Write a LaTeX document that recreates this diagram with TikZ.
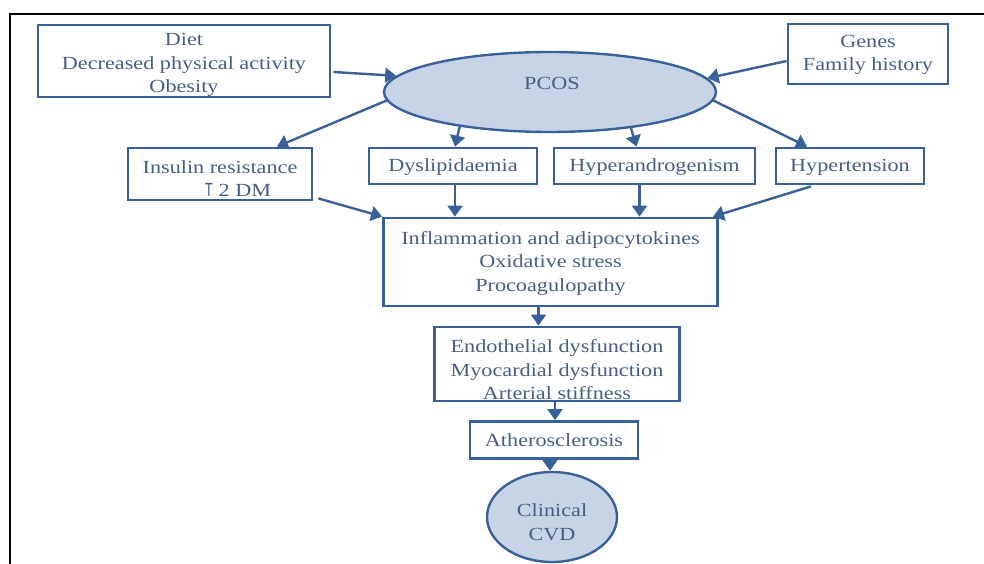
\documentclass[tikz,border=0pt]{standalone}
\usepackage{fontspec}
\setmainfont[FakeStretch=1.2]{Liberation Serif}
\newfontfamily\thinsans{Liberation Sans}
\usetikzlibrary{arrows.meta,shapes.geometric,calc}
\definecolor{bord}{HTML}{38619A}
\definecolor{txtc}{HTML}{465E84}
\definecolor{fillc}{HTML}{C7D4E6}
\begin{document}
\begin{tikzpicture}[x=1pt,y=-1pt,
 box/.style={draw=bord,line width=2.8pt,rectangle,inner sep=0pt},
 txt/.style={text=txtc,inner sep=0pt,align=center,font=\fontsize{18.5}{23.5}\selectfont},
 arr/.style={draw=bord,line width=2.4pt,-{Triangle[length=11pt,width=15pt]}},
 frame/.style={draw=black,line width=2.6pt}
]
\useasboundingbox (0,0) rectangle (984,564);
% frame (open on right and bottom)
\coordinate (fa) at (10,564);
\coordinate (fb) at (10,14);
\coordinate (fc) at (984,14);
\draw[frame] (fa) -- (fb) -- (fc);

% boxes
\node[box,minimum width=292pt,minimum height=72pt] (diet) at (184,61) {};
\node[txt] (dietT) at (184,65) {Diet\\Decreased physical activity\\Obesity};

\node[box,minimum width=160pt,minimum height=60pt] (genes) at (868,54) {};
\node[txt] (genesT) at (868,55) {Genes\\Family history};

\node[draw=bord,fill=fillc,line width=2.4pt,ellipse,minimum width=332pt,minimum height=80pt,inner sep=0pt] (pcos) at (550,92) {};
\node[txt] (pcosT) at (552,83) {PCOS};

\node[box,minimum width=184pt,minimum height=52pt] (ins) at (220,174) {};
\node[txt] (insT1) at (220,167) {Insulin resistance};
\node[txt] (insT2) at (238,190) {{\thinsans\fontsize{19}{19}\selectfont\addfontfeature{FakeStretch=0.7}T} 2 DM};

\node[box,minimum width=168pt,minimum height=36pt] (dys) at (453,166) {};
\node[txt] (dysT) at (453,167) {Dyslipidaemia};

\node[box,minimum width=201pt,minimum height=36pt] (hyp) at (654.5,166) {};
\node[txt] (hypT) at (654.5,167) {Hyperandrogenism};

\node[box,minimum width=148pt,minimum height=36pt] (htn) at (850,166) {};
\node[txt] (htnT) at (850,167) {Hypertension};

\node[box,minimum width=334pt,minimum height=88pt] (inf) at (550.5,262) {};
\node[txt] (infT) at (550.5,263) {Inflammation and adipocytokines\\Oxidative stress\\Procoagulopathy};

\node[box,minimum width=245pt,minimum height=74pt] (endo) at (557,364) {};
\node[txt] (endoT) at (557,370) {Endothelial dysfunction\\Myocardial dysfunction\\Arterial stiffness};

\node[box,minimum width=168pt,minimum height=37pt] (ath) at (554,440) {};
\node[txt] (athT) at (554,440) {Atherosclerosis};

\node[draw=bord,fill=fillc,line width=2.4pt,ellipse,minimum width=130pt,minimum height=90pt,inner sep=0pt] (cvd) at (552,517) {};
\node[txt] (cvdT) at (552,522) {Clinical\\CVD};

% helper coordinates
\coordinate (dysS) at ($(dys.south)+(2,0)$);
\coordinate (hypS) at ($(hyp.south)+(-15,0)$);
\coordinate (infS) at ($(inf.south)+(-12,0)$);
\coordinate (endoS) at ($(endo.south)+(-2,0)$);
\coordinate (athS) at ($(ath.south)+(-4,0)$);

% arrows into PCOS
\draw[arr] ($(diet.east)+(2,11)$) -- (pcos.174.4);
\draw[arr] ($(genes.west)+(0,7)$) -- (pcos.5.7);
% arrows out of PCOS
\draw[arr] (pcos.183.5) -- ($(ins.north)+(57,0)$);
\draw[arr] (pcos.201.9) -- ($(dys.north)+(2,0)$);
\draw[arr] (pcos.336) -- ($(hyp.north)+(-18,0)$);
\draw[arr] (pcos.357) -- ($(htn.north)+(-43,0)$);
% into inflammation
\draw[arr] ($(ins.south east)+(5,-3)$) -- (inf.north west);
\draw[arr] (dysS) -- (dysS |- inf.north);
\draw[arr] (hypS) -- (hypS |- inf.north);
\draw[arr] ($(htn.south)+(-39,1)$) -- ($(inf.north east)+(-6,0)$);
% chain down
\draw[arr] (infS) -- (infS |- endo.north);
\draw[arr] (endoS) -- (endoS |- ath.north);
\draw[arr] (athS) -- (athS |- cvd.north);
\end{tikzpicture}
\end{document}
